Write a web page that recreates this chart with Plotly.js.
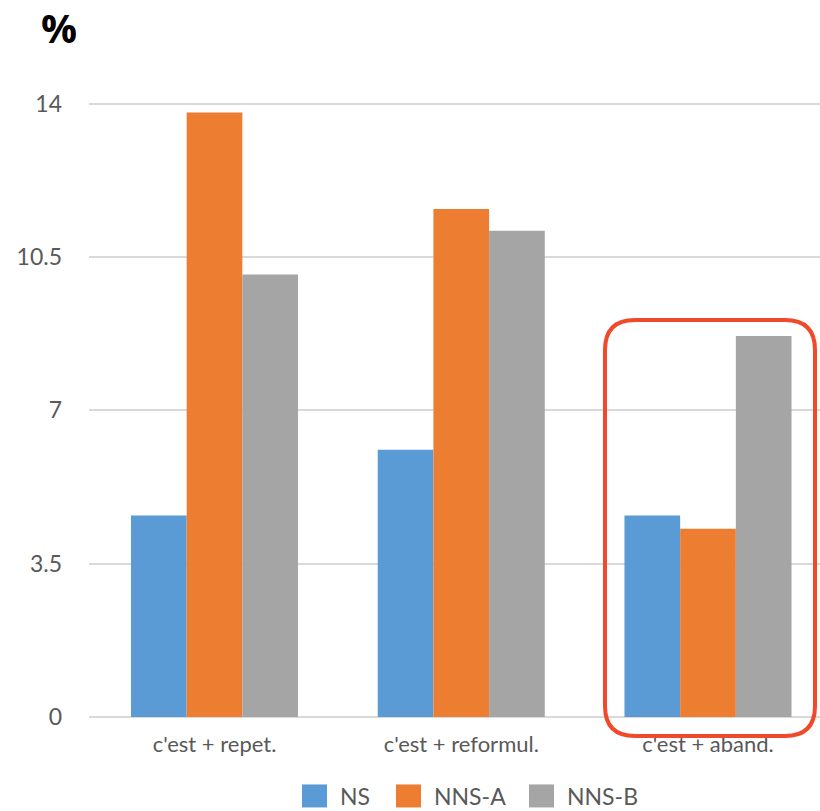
<!DOCTYPE html>
<html>
<head>
<meta charset="utf-8">
<script src="https://cdn.plot.ly/plotly-3.0.1.min.js"></script>
<style>html,body{margin:0;padding:0;background:#fff;}</style>
</head>
<body>
<div id="chart" style="width:820px;height:811px;"></div>
<script>
const categories = ["c'est + repet.", "c'est + reformul.", "c'est + aband."];
const seriesNames = ["NS", "NNS-A", "NNS-B"];
const nsValues = [4.6, 6.1, 4.6];
const nnsAValues = [13.8, 11.6, 4.3];
const nnsBValues = [10.1, 11.1, 8.7];
const yTicks = [0, 3.5, 7, 10.5, 14];
const yTickLabels = ["0", "3.5", "7", "10.5", "14"];
const colors = ["#5B9BD5", "#ED7D31", "#A5A5A5"];

const allValues = [nsValues, nnsAValues, nnsBValues];
const traces = seriesNames.map((name, i) => ({
  type: 'bar',
  name: name,
  x: categories,
  y: allValues[i],
  marker: {color: colors[i]},
  hoverinfo: 'none'
}));

const W = 820, H = 811;
const margin = {l: 89, r: 0, t: 60, b: 94, autoexpand: false};
const plotW = W - margin.l - margin.r;
const plotH = H - margin.t - margin.b;

// highlight box around the third category (paper coordinates)
const x0 = (605 - margin.l) / plotW, x1 = (815 - margin.l) / plotW;
const y0 = (H - margin.b - 736) / plotH, y1 = (H - margin.b - 320) / plotH;
const rx = 30 / plotW, ry = 30 / plotH;
const boxPath = `M${x0+rx},${y0} L${x1-rx},${y0} Q${x1},${y0} ${x1},${y0+ry} L${x1},${y1-ry} Q${x1},${y1} ${x1-rx},${y1} L${x0+rx},${y1} Q${x0},${y1} ${x0},${y1-ry} L${x0},${y0+ry} Q${x0},${y0} ${x0+rx},${y0} Z`;

const FONT = 'Lato, "Open Sans", sans-serif';
const layout = {
  width: W, height: H,
  margin: margin,
  paper_bgcolor: '#fff', plot_bgcolor: '#fff',
  font: {family: FONT, color: '#595959', size: 22},
  title: {text: '<b>%</b>', x: 41 / W, xanchor: 'left', xref: 'container',
          y: 1 - 29 / H, yanchor: 'middle', yref: 'container',
          font: {family: '"Open Sans", sans-serif', size: 40, color: '#000'}},
  barmode: 'group',
  bargap: 0.323,
  bargroupgap: 0,
  xaxis: {
    range: [-0.5086, 2.4539],
    showgrid: false, zeroline: false, showline: false,
    ticks: '', ticklabelstandoff: 12,
    tickfont: {size: 22, color: '#595959'},
    fixedrange: true
  },
  yaxis: {
    range: [0, 15],
    tickvals: yTicks, ticktext: yTickLabels,
    showgrid: true, gridcolor: '#D9D9D9', gridwidth: 2,
    zeroline: true, zerolinecolor: '#D9D9D9', zerolinewidth: 2,
    showline: false, ticks: '', ticklabelstandoff: 26,
    tickfont: {size: 23, color: '#595959'},
    fixedrange: true
  },
  showlegend: true,
  legend: {
    orientation: 'h', x: 0.518, xanchor: 'center', y: (H - margin.b - 796) / plotH, yanchor: 'middle',
    font: {size: 23, color: '#595959'}, traceorder: 'normal',
    itemclick: false, itemdoubleclick: false
  },
  shapes: [{
    type: 'path', xref: 'paper', yref: 'paper', path: boxPath,
    line: {color: '#EF4A2C', width: 4}, fillcolor: 'rgba(0,0,0,0)', layer: 'above'
  }]
};

// left edges (page px) of the legend swatches in the reference
const legendSwatchLeft = [302, 396, 529];

Plotly.newPlot('chart', traces, layout, {displayModeBar: false, staticPlot: true}).then(gd => {
  const sb = gd.querySelector('.legend .scrollbox');
  if (sb) sb.removeAttribute('clip-path');
  const lg = gd.querySelector('.legend');
  if (lg) lg.removeAttribute('clip-path');
  gd.querySelectorAll('.legend .traces').forEach((g, i) => {
    const path = g.querySelector('.legendpoints path');
    if (!path) return;
    path.setAttribute('d', 'M12.5,11.5H-12.5V-11.5H12.5Z');
    const text = g.querySelector('.legendtext');
    let pr = path.getBoundingClientRect();
    if (text) {
      const tr = text.getBoundingClientRect();
      const tx = parseFloat(text.getAttribute('x') || '0');
      text.setAttribute('x', tx + (pr.right + 13 - tr.left));
    }
    pr = path.getBoundingClientRect();
    const dx = legendSwatchLeft[i] - pr.left;
    const t = g.getAttribute('transform') || 'translate(0,0)';
    const m = t.match(/translate\(\s*([-\d.e]+)[ ,]+([-\d.e]+)\s*\)/);
    const tx0 = m ? parseFloat(m[1]) : 0, ty0 = m ? parseFloat(m[2]) : 0;
    g.setAttribute('transform', `translate(${tx0 + dx},${ty0})`);
  });
});
</script>
</body>
</html>
